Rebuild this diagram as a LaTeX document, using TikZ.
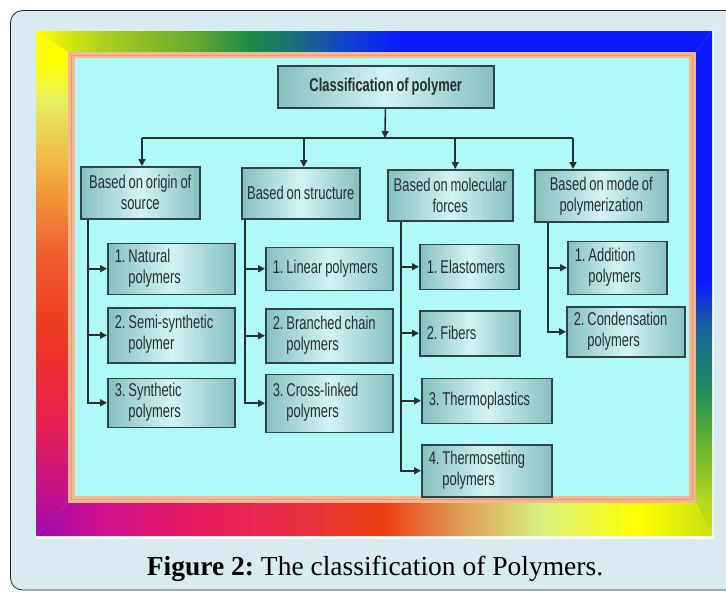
\documentclass[tikz,border=0pt]{standalone}
\usepackage{fontspec}
\setmainfont{Liberation Serif}
\newfontfamily\boxfont[FakeStretch=0.7,WordSpace=0.8]{Liberation Sans}
\usetikzlibrary{positioning,arrows.meta}
\frenchspacing

\definecolor{panel}{HTML}{D7EBF0}
\definecolor{panelline}{HTML}{222222}
\definecolor{peach}{HTML}{F5B890}
\definecolor{peachline}{HTML}{E49A78}
\definecolor{sky}{HTML}{AFF9F9}
\definecolor{boxedge}{HTML}{86C0C0}
\definecolor{boxmid}{HTML}{D2F3F3}
\definecolor{boxline}{HTML}{2E4343}
\definecolor{ink}{HTML}{26302F}

% rainbow frame, one shading per side
\pgfdeclarehorizontalshading{rbtop}{100bp}{color(0bp)=(yellow); color(25bp)=(yellow);
  color(29.7bp)=(rgb,255:red,176;green,208;blue,32); color(37.1bp)=(rgb,255:red,96;green,168;blue,48);
  color(40.8bp)=(rgb,255:red,26;green,140;blue,69); color(44.5bp)=(rgb,255:red,26;green,106;blue,128);
  color(48.2bp)=(rgb,255:red,16;green,64;blue,208); color(51.9bp)=(rgb,255:red,10;green,26;blue,255);
  color(100bp)=(rgb,255:red,10;green,26;blue,255)}
\pgfdeclareverticalshading{rbright}{100bp}{color(0bp)=(rgb,255:red,200;green,224;blue,16);
  color(25bp)=(rgb,255:red,200;green,224;blue,16); color(28.6bp)=(rgb,255:red,176;green,216;blue,32);
  color(34.5bp)=(rgb,255:red,96;green,176;blue,48); color(40bp)=(rgb,255:red,26;green,138;blue,96);
  color(46bp)=(rgb,255:red,26;green,96;blue,160); color(50bp)=(rgb,255:red,10;green,26;blue,255);
  color(100bp)=(rgb,255:red,10;green,26;blue,255)}
\pgfdeclarehorizontalshading{rbbottom}{100bp}{color(0bp)=(rgb,255:red,160;green,10;blue,176);
  color(25bp)=(rgb,255:red,160;green,10;blue,176); color(29.7bp)=(rgb,255:red,208;green,16;blue,144);
  color(37.1bp)=(rgb,255:red,232;green,26;blue,96); color(44.5bp)=(rgb,255:red,232;green,48;blue,64);
  color(50.8bp)=(rgb,255:red,238;green,64;blue,16); color(55.6bp)=(rgb,255:red,224;green,144;blue,80);
  color(62.3bp)=(rgb,255:red,216;green,240;blue,128); color(69.7bp)=(yellow);
  color(75bp)=(rgb,255:red,200;green,224;blue,16); color(100bp)=(rgb,255:red,200;green,224;blue,16)}
\pgfdeclareverticalshading{rbleft}{100bp}{color(0bp)=(rgb,255:red,160;green,10;blue,176);
  color(25bp)=(rgb,255:red,160;green,10;blue,176); color(28.6bp)=(rgb,255:red,192;green,16;blue,144);
  color(36.5bp)=(rgb,255:red,232;green,32;blue,80); color(45.4bp)=(rgb,255:red,238;green,58;blue,32);
  color(53.3bp)=(rgb,255:red,240;green,96;blue,48); color(61.2bp)=(rgb,255:red,240;green,176;blue,64);
  color(68.2bp)=(rgb,255:red,232;green,240;blue,96); color(72bp)=(yellow); color(100bp)=(yellow)}

\newcommand\twoline[3]{\begin{tabular}{@{}l@{\ }l@{}}#1 & #2\\ & #3\end{tabular}}

\tikzset{
  head/.style={draw=boxline, line width=1.5pt, left color=boxedge, right color=boxedge,
    middle color=boxmid, text=ink, inner sep=0pt, align=center, anchor=north west},
  item/.style={head, align=flush left, inner xsep=7pt},
  link/.style={draw=ink, line width=1.6pt, ->},
  rail/.style={draw=ink, line width=1.6pt},
}

\begin{document}
\begin{tikzpicture}[x=1pt,y=-1pt,font=\boxfont\fontsize{18.5}{21}\selectfont,
  >={Triangle[length=7pt,width=7pt]}]

\useasboundingbox (0,0) rectangle (726,592);
\clip (0,0) rectangle (726,592);

% page panel and frame
\draw[draw=panelline, fill=panel, rounded corners=12pt, line width=0.8pt] (10.5,10.5) rectangle (745,590);
\fill[white] (36,31) rectangle (714,539);
\shade[shading=rbtop] (36,31) -- (712,31) -- (696,52) -- (68,52) -- cycle;
\shade[shading=rbright] (712,31) -- (712,536) -- (696,503) -- (696,52) -- cycle;
\shade[shading=rbbottom] (36,536) -- (712,536) -- (696,503) -- (68,503) -- cycle;
\shade[shading=rbleft] (36,31) -- (68,52) -- (68,503) -- (36,536) -- cycle;
\fill[peach] (68,52) rectangle (696,503);
\draw[peachline, line width=1pt] (71.5,55) rectangle (692.5,499.5);
\fill[sky] (75,58) rectangle (689,496);

\node[head, minimum width=216pt, minimum height=42pt,
  font=\boxfont\bfseries\fontsize{18.5}{21}\selectfont] (root) at (277,65) {Classification of polymer};

\node[head, minimum width=119pt, minimum height=52pt] (origin) at (80,166) {Based on origin of\\source};
\node[head, minimum width=118pt, minimum height=51pt] (struct) at (241,167) {Based on structure};
\node[head, minimum width=125pt, minimum height=51pt] (forces) at (387,169) {Based on molecular\\forces};
\node[head, minimum width=133pt, minimum height=52pt] (mode) at (534,169) {Based on mode of\\polymerization};

\node[item, text width=113pt, minimum height=51pt, below right=23pt and 27pt of origin.south west] (natural)
  {\twoline{1.}{Natural}{polymers}};
\node[item, text width=113pt, minimum height=55pt, below right=12pt and 0pt of natural.south west] (semi)
  {\twoline{2.}{Semi-synthetic}{polymer}};
\node[item, text width=113pt, minimum height=49pt, below right=14pt and 0pt of semi.south west] (synth)
  {\twoline{3.}{Synthetic}{polymers}};

\node[item, text width=113pt, minimum height=43pt, below right=27pt and 24pt of struct.south west] (linear)
  {1. Linear polymers};
\node[item, text width=113pt, minimum height=54pt, below right=17pt and 0pt of linear.south west] (branched)
  {\twoline{2.}{Branched chain}{polymers}};
\node[item, text width=113pt, minimum height=58pt, below right=10pt and 0pt of branched.south west] (cross)
  {\twoline{3.}{Cross-linked}{polymers}};

\node[item, text width=85pt, minimum height=45pt, below right=22pt and 32pt of forces.south west] (elast)
  {1. Elastomers};
\node[item, text width=86pt, minimum height=45pt, below right=20pt and 0pt of elast.south west] (fibers)
  {2. Fibers};
\node[item, text width=116pt, minimum height=45pt, below right=21pt and 2pt of fibers.south west] (thplast)
  {3. Thermoplastics};
\node[item, text width=116pt, minimum height=52pt, below right=20pt and 0pt of thplast.south west] (thset)
  {\twoline{4.}{Thermosetting}{polymers}};

\node[item, text width=85pt, minimum height=53pt, below right=18pt and 33pt of mode.south west] (addit)
  {\twoline{1.}{Addition}{polymers}};
\node[item, text width=104pt, minimum height=50pt, below right=11pt and -1pt of addit.south west] (cond)
  {\twoline{2.}{Condensation}{polymers}};

% top bus
\coordinate (hub) at (385,138);
\coordinate (busL) at (142,138);
\coordinate (busR) at (573,138);
\draw[link] (root) -- (hub);
\draw[rail] (busL) -- (busR);
\draw[link] (busL) -- (busL |- origin.north);
\draw[link] ([xshift=3pt]struct.north |- hub) -- ([xshift=3pt]struct.north);
\draw[link] ([xshift=5pt]forces.north |- hub) -- ([xshift=5pt]forces.north);
\draw[link] (busR) -- (busR |- mode.north);

% branches
\draw[link] ([xshift=8pt]origin.south west) |- (natural);
\draw[link] ([xshift=8pt]origin.south west) |- (semi);
\draw[link] ([xshift=8pt]origin.south west) |- (synth);

\draw[link] ([xshift=4pt]struct.south west) |- (linear);
\draw[link] ([xshift=4pt]struct.south west) |- (branched);
\draw[link] ([xshift=4pt]struct.south west) |- (cross);

\draw[link] ([xshift=14pt]forces.south west) |- (elast);
\draw[link] ([xshift=14pt]forces.south west) |- (fibers);
\draw[link] ([xshift=14pt]forces.south west) |- (thplast);
\draw[link] ([xshift=14pt]forces.south west) |- (thset);

\draw[link] ([xshift=14pt]mode.south west) |- (addit);
\draw[link] ([xshift=14pt]mode.south west) |- (cond);

\node[font=\rmfamily\fontsize{27.5}{32}\selectfont, text=black, anchor=base] (caption) at (375,575)
  {\textbf{Figure 2:} The classification of Polymers.};

\end{tikzpicture}
\end{document}
